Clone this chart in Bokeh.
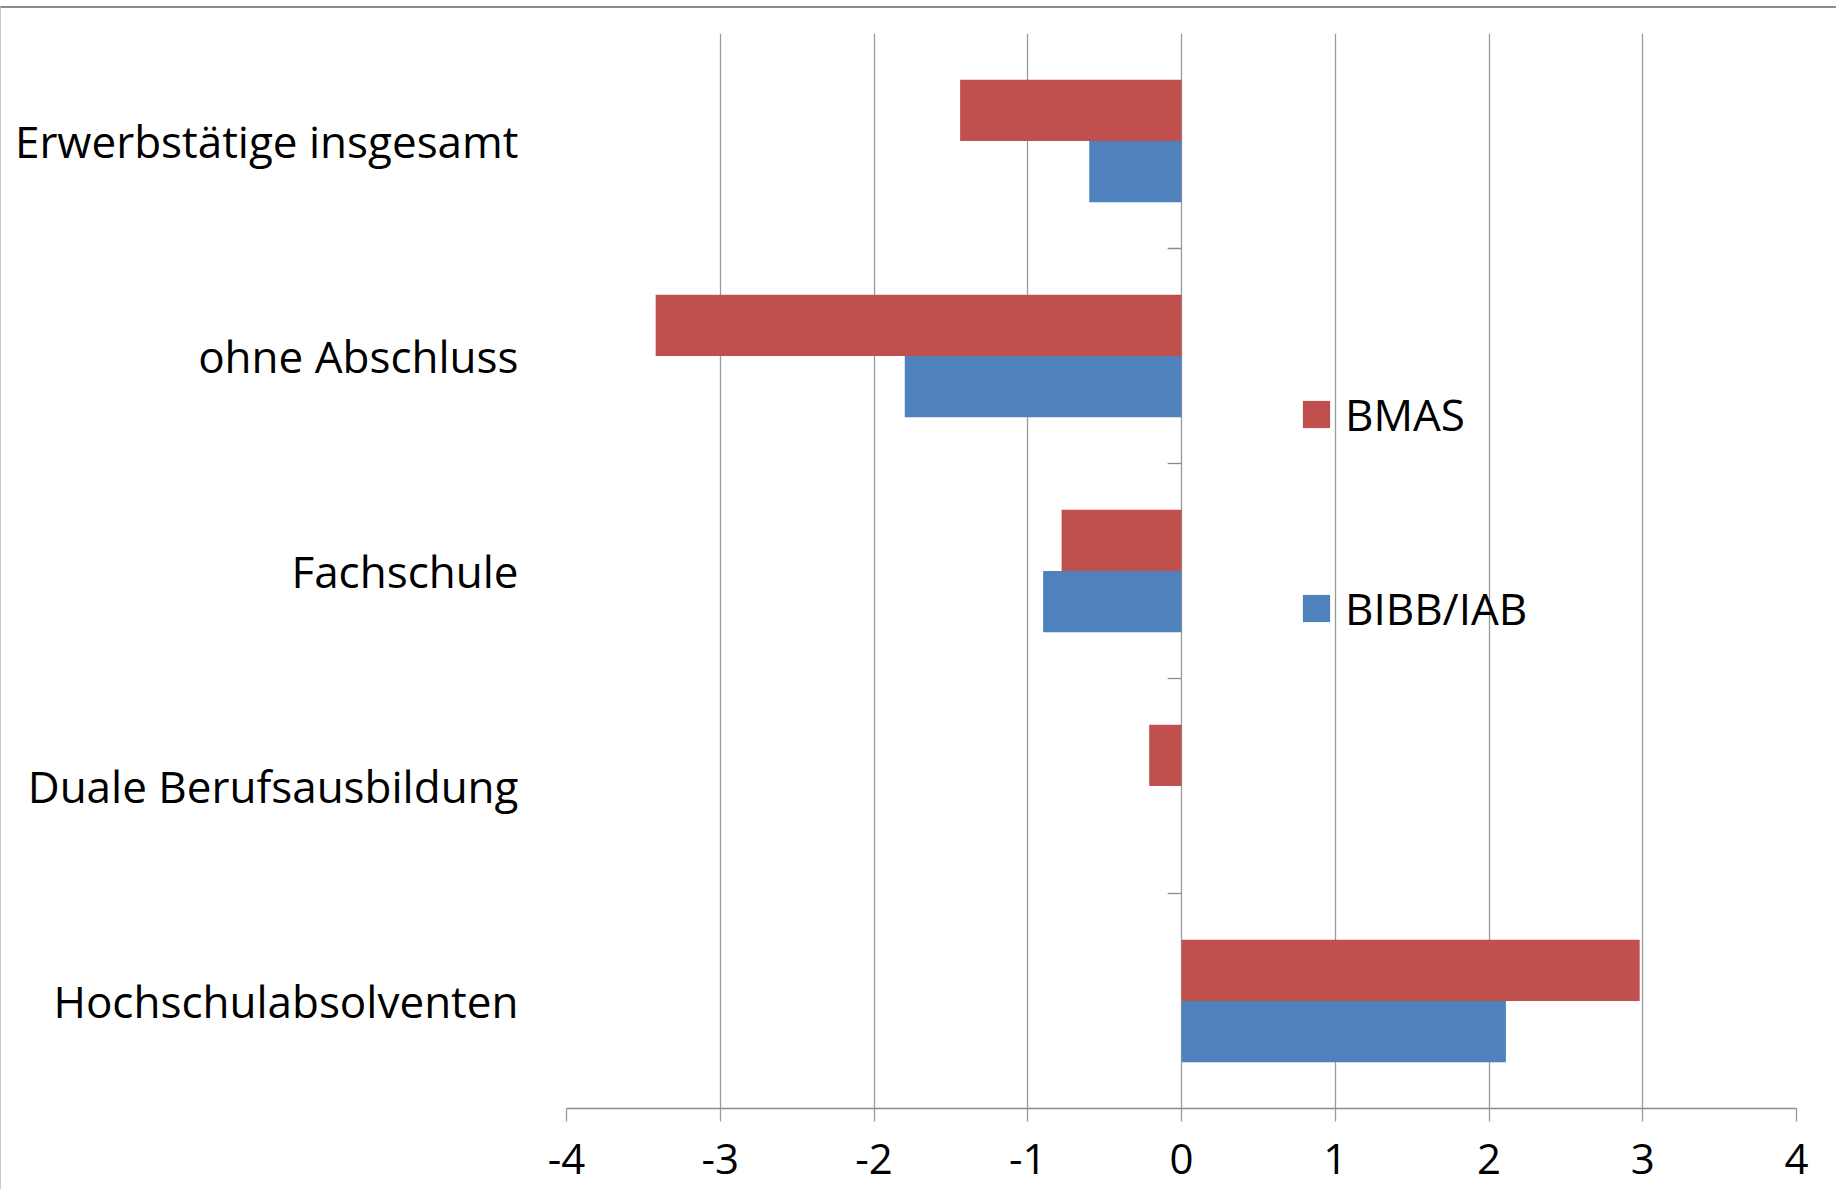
from bokeh.plotting import figure
from bokeh.models import (FactorRange, Range1d, FixedTicker, Legend, LegendItem,
                          ColumnDataSource)
from bokeh.transform import dodge
from bokeh.embed import file_html
from bokeh.resources import INLINE

# ---- data ----
categories = ["Erwerbstätige insgesamt", "ohne Abschluss", "Fachschule",
              "Duale Berufsausbildung", "Hochschulabsolventen"]
bmas = [-1.44, -3.42, -0.78, -0.21, 2.98]
bibb_iab = [-0.60, -1.80, -0.90, 0.0, 2.11]
series_names = ["BMAS", "BIBB/IAB"]
x_ticks = [-4, -3, -2, -1, 0, 1, 2, 3, 4]
x_tick_labels = ["-4", "-3", "-2", "-1", "0", "1", "2", "3", "4"]

RED = "#C0504D"
BLUE = "#4F81BD"
GRID = "#9a9a9a"
FONT = "Open Sans"
FS = "44px"

src = ColumnDataSource(dict(cat=categories, bmas=bmas, bibb=bibb_iab))
bound_src = ColumnDataSource(dict(cat=categories[:-1]))

p = figure(width=1836, height=1183,
           x_range=Range1d(-4, 4),
           y_range=FactorRange(factors=list(reversed(categories))),
           output_backend="svg", toolbar_location=None,
           min_border_left=565, min_border_right=41,
           min_border_top=25, min_border_bottom=83)
p.outline_line_color = None
p.background_fill_color = "white"
p.border_fill_color = "white"

# grid
p.xgrid.ticker = FixedTicker(ticks=x_ticks)
p.xgrid.grid_line_color = GRID
p.xgrid.grid_line_width = 1.3
p.ygrid.visible = False

# x axis
p.xaxis.ticker = FixedTicker(ticks=x_ticks)
p.xaxis.major_label_overrides = {t: l for t, l in zip(x_ticks, x_tick_labels)}
p.xaxis.axis_line_color = "#8c8c8c"
p.xaxis.axis_line_width = 1.5
p.xaxis.major_tick_line_color = GRID
p.xaxis.major_tick_line_width = 1.3
p.xaxis.major_tick_out = 13
p.xaxis.major_tick_in = 0
p.xaxis.minor_tick_line_color = None
p.xaxis.major_label_text_font = FONT
p.xaxis.major_label_text_font_size = "42px"
p.xaxis.major_label_text_color = "black"
p.xaxis.major_label_standoff = 22

# y axis (category labels)
p.yaxis.axis_line_color = None
p.yaxis.major_tick_line_color = None
p.yaxis.minor_tick_line_color = None
p.yaxis.major_label_text_font = FONT
p.yaxis.major_label_text_font_size = FS
p.yaxis.major_label_text_color = "black"
p.yaxis.major_label_standoff = 42

# category boundary ticks on the zero line
p.segment(x0=0, x1=-0.09, y0=dodge("cat", -0.5, range=p.y_range),
          y1=dodge("cat", -0.5, range=p.y_range), source=bound_src,
          line_color="#8c8c8c", line_width=1.3)

r1 = p.hbar(y=dodge("cat", 0.1425, range=p.y_range), left=0, right="bmas",
            height=0.285, source=src, fill_color=RED, line_color=None)
r2 = p.hbar(y=dodge("cat", -0.1425, range=p.y_range), left=0, right="bibb",
            height=0.285, source=src, fill_color=BLUE, line_color=None)

legend = Legend(items=[LegendItem(label=series_names[0], renderers=[r1]),
                       LegendItem(label=series_names[1], renderers=[r2])],
                location=(733, 470), orientation="vertical",
                spacing=134, glyph_height=34, glyph_width=34,
                label_standoff=12, label_text_font=FONT,
                label_text_font_size=FS, label_text_color="black",
                padding=0, margin=0, border_line_color=None,
                background_fill_alpha=0)
p.add_layout(legend)

p.styles = {"margin-top": "6px", "border-top": "2px solid #8c8c8c",
            "border-left": "1px solid #c8c8c8"}

open("out.html", "w").write(file_html(p, INLINE))
